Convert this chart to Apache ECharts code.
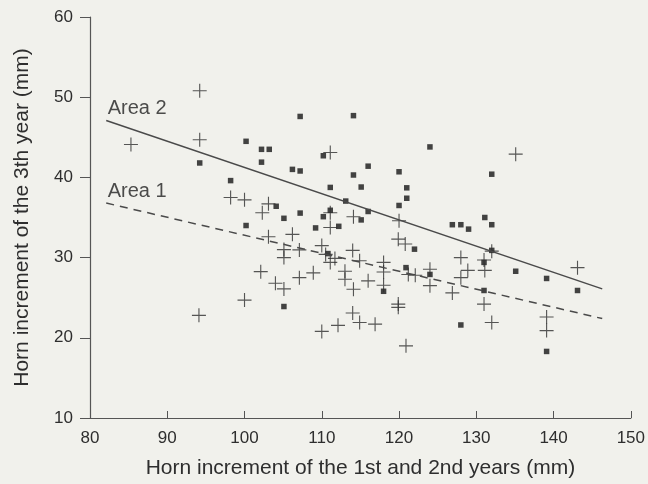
<!DOCTYPE html>
<html>
<head>
<meta charset="utf-8">
<script src="https://cdn.jsdelivr.net/npm/echarts@6/dist/echarts.min.js"></script>
<style>
  html, body { margin: 0; padding: 0; background: #f1f1ec; }
  #main { width: 648px; height: 484px; }
</style>
</head>
<body>
<div id="main"></div>
<script>
// Area 2 (filled squares)
var area2Pts = [
  [94.2, 41.8], [100.2, 44.5], [102.2, 43.5], [103.2, 43.5], [102.2, 41.9], [98.2, 39.6],
  [104.1, 36.4], [100.2, 34.0], [107.2, 47.6], [114.1, 47.7], [124.0, 43.8], [110.2, 42.7],
  [106.2, 41.0], [107.2, 40.8], [116.0, 41.4], [114.1, 40.3], [120.0, 40.7], [111.1, 38.75],
  [115.1, 38.8], [121.0, 38.7], [121.0, 37.4], [113.1, 37.05], [120.0, 36.5], [116.0, 35.75],
  [115.1, 34.7], [111.1, 35.9], [110.2, 35.1], [107.2, 35.55], [105.1, 34.9], [109.2, 33.7],
  [112.2, 33.9], [126.9, 34.1], [128.0, 34.1], [132.0, 40.4], [131.1, 35.0], [132.0, 34.1],
  [129.0, 33.55], [110.8, 30.5], [118.0, 25.8], [120.9, 28.75], [124.0, 27.9], [122.0, 31.05],
  [105.1, 23.9], [128.0, 21.6], [132.0, 30.9], [131.0, 29.4], [135.1, 28.3], [139.1, 27.4],
  [143.1, 25.9], [131.0, 25.9], [139.1, 18.3]
];

// Area 1 (crosses)
var area1Pts = [
  [85.3, 44.1], [94.2, 50.8], [94.2, 44.7], [98.2, 37.5], [100.0, 37.2], [103.1, 36.7],
  [102.3, 35.6], [111.1, 43.1], [114.1, 35.1], [120.0, 34.6], [111.1, 35.6], [111.1, 33.75],
  [135.1, 42.9], [103.1, 32.6], [102.1, 28.25], [104.0, 26.8], [100.0, 24.7], [94.1, 22.8],
  [106.2, 32.9], [119.9, 32.3], [120.8, 31.7], [105.1, 31.0], [105.1, 30.0], [107.1, 30.96],
  [110.0, 31.5], [110.5, 30.4], [111.1, 29.4], [111.7, 29.9], [114.0, 30.9], [114.9, 29.6],
  [118.0, 29.4], [118.0, 28.2], [118.0, 26.55], [121.2, 27.9], [122.1, 27.8], [124.0, 28.55],
  [124.0, 26.5], [126.9, 25.6], [128.0, 30.0], [128.0, 27.5], [107.1, 27.5], [108.9, 28.1],
  [105.1, 26.1], [113.0, 28.3], [113.0, 27.3], [114.1, 26.05], [116.0, 27.1], [110.0, 20.8],
  [112.1, 21.55], [114.0, 23.1], [114.9, 21.9], [116.9, 21.7], [119.9, 24.2], [119.9, 23.8],
  [120.9, 19.0], [132.0, 30.8], [131.0, 29.7], [131.1, 28.4], [128.9, 28.4], [143.1, 28.75],
  [131.0, 24.2], [132.0, 21.9], [139.1, 22.6], [139.1, 20.9]
];

// regression lines
var area2Line = [[82.1, 47.1], [146.3, 26.1]];
var area1Line = [[82.1, 36.8], [146.3, 22.4]];
var lineNames = ['Area 2', 'Area 1'];

var textColor = '#2e2e2e';
var font = '"Liberation Sans", Arial, sans-serif';
var crossPath = 'path://M0,9.2 H20 V10.8 H0 Z M9.2,0 H10.8 V20 H9.2 Z';

var myChart = echarts.init(document.getElementById('main'));
var option = {
  backgroundColor: '#f1f1ec',
  animation: false,
  grid: {
    left: 90,
    right: 17,
    top: 17,
    bottom: 65
  },
  xAxis: {
    type: 'value',
    min: 80,
    max: 150,
    interval: 10,
    name: 'Horn increment of the 1st and 2nd years (mm)',
    nameLocation: 'middle',
    nameGap: 40,
    nameTextStyle: { color: textColor, fontSize: 21, fontFamily: font },
    axisLine: { show: true, lineStyle: { color: '#555', width: 1.2 } },
    axisTick: { show: true, inside: true, length: 7, lineStyle: { color: '#555' } },
    axisLabel: { color: textColor, fontSize: 17, fontFamily: font, margin: 12 },
    splitLine: { show: false }
  },
  yAxis: {
    type: 'value',
    min: 10,
    max: 60,
    interval: 10,
    name: 'Horn increment of the 3th year (mm)',
    nameLocation: 'middle',
    nameGap: 57,
    nameTextStyle: { color: textColor, fontSize: 21, fontFamily: font },
    axisLine: { show: true, lineStyle: { color: '#555', width: 1.2 } },
    axisTick: { show: true, inside: false, length: 10, lineStyle: { color: '#555' } },
    axisLabel: { color: textColor, fontSize: 17, fontFamily: font, margin: 17 },
    splitLine: { show: false }
  },
  series: [{
      name: 'Area 2 line',
      type: 'line',
      data: area2Line,
      showSymbol: false,
      silent: true,
      lineStyle: { color: '#4a4a4a', width: 1.5 }
    },
    {
      name: 'Area 1 line',
      type: 'line',
      data: area1Line,
      showSymbol: false,
      silent: true,
      lineStyle: { color: '#4a4a4a', width: 1.5, type: [8, 6] }
    },
    {
      name: 'Area 2',
      type: 'scatter',
      symbol: 'rect',
      symbolSize: 5.5,
      itemStyle: { color: '#161616' },
      data: area2Pts
    },
    {
      name: 'Area 1',
      type: 'scatter',
      symbol: crossPath,
      symbolSize: 14,
      itemStyle: { color: '#2e2e2e' },
      data: area1Pts
    },
    {
      // line names
      name: 'labels',
      type: 'scatter',
      symbolSize: 1,
      itemStyle: { color: 'transparent' },
      label: {
        show: true,
        position: 'right',
        distance: 1,
        offset: [0, -12],
        color: '#222',
        fontSize: 20,
        fontFamily: font,
        formatter: function (p) { return lineNames[p.dataIndex]; }
      },
      data: [area2Line[0], area1Line[0]]
    }
  ]
};
myChart.setOption(option);
</script>
</body>
</html>
